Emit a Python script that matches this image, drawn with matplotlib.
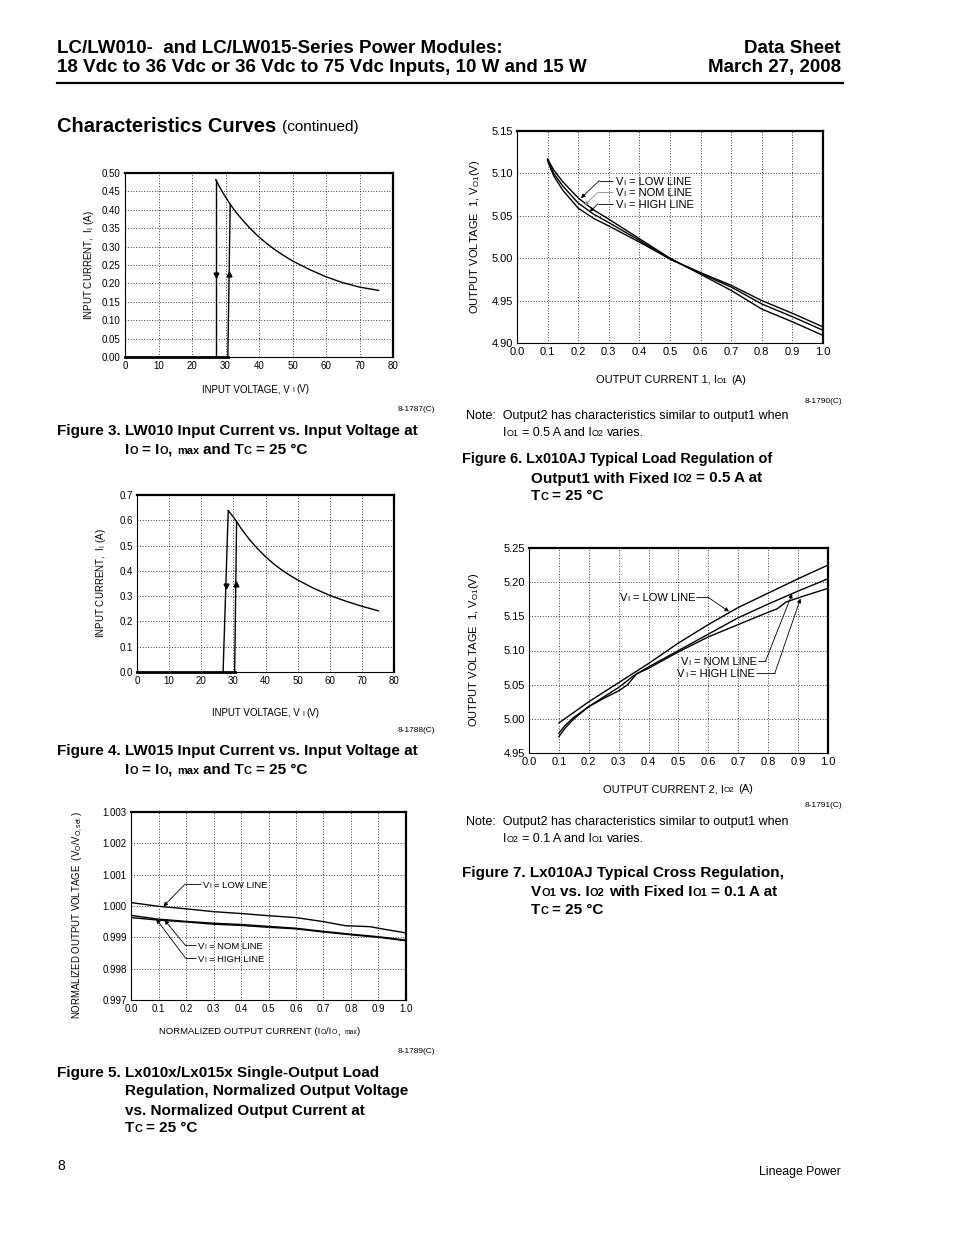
import matplotlib
matplotlib.use('Agg')
import matplotlib.pyplot as plt
from matplotlib.transforms import IdentityTransform
from matplotlib.lines import Line2D
from matplotlib.ticker import FormatStrFormatter

# ---------------- data ----------------
# Figure 3: LW010 input current vs input voltage
lw010_v = [27.1, 28.0, 29.0, 30.0, 31.4, 33.0, 35.0, 37.5, 40.0, 42.5, 45.0, 47.5, 50.0, 55.0, 60.0, 65.0, 70.0, 75.7]
lw010_i = [0.482, 0.466, 0.450, 0.435, 0.415, 0.395, 0.373, 0.348, 0.326, 0.307, 0.290, 0.275, 0.261, 0.238, 0.218, 0.202, 0.190, 0.181]
lw010_off_v = [27.1, 27.1]
lw010_off_i = [0.482, 0.0]
lw010_on_v = [30.7, 31.4]
lw010_on_i = [0.0, 0.415]
lw010_base_v = [0.0, 30.7]
lw010_base_i = [0.0, 0.0]

# Figure 4: LW015 input current vs input voltage
lw015_v = [28.4, 30.0, 31.0, 32.5, 35.0, 37.5, 40.0, 42.5, 45.0, 47.5, 50.0, 55.0, 60.0, 65.0, 70.0, 75.1]
lw015_i = [0.638, 0.613, 0.595, 0.566, 0.524, 0.488, 0.456, 0.428, 0.404, 0.383, 0.364, 0.331, 0.303, 0.280, 0.260, 0.242]
lw015_off_v = [28.4, 26.8]
lw015_off_i = [0.638, 0.0]
lw015_on_v = [30.4, 31.0]
lw015_on_i = [0.0, 0.595]
lw015_base_v = [0.0, 30.4]
lw015_base_i = [0.0, 0.0]

# Figure 5: normalized load regulation
f5_low_x = [0.0, 0.1, 0.2, 0.3, 0.4, 0.5, 0.6, 0.7, 0.78, 0.87, 0.9, 1.0]
f5_low_y = [1.00011, 0.99999, 0.99991, 0.99982, 0.99976, 0.99969, 0.99963, 0.99950, 0.99937, 0.99934, 0.99929, 0.99914]
f5_x = [0.0, 0.1, 0.2, 0.3, 0.4, 0.5, 0.6, 0.7, 0.8, 0.9, 1.0]
f5_nom_y = [0.99970, 0.99958, 0.99951, 0.99945, 0.99941, 0.99935, 0.99929, 0.99919, 0.99910, 0.99902, 0.99891]
f5_high_y = [0.99963, 0.99955, 0.99949, 0.99942, 0.99938, 0.99932, 0.99927, 0.99917, 0.99908, 0.99900, 0.99889]

# Figure 6: load regulation of output1
f6_x = [0.1, 0.12, 0.15, 0.2, 0.25, 0.3, 0.4, 0.5, 0.6, 0.7, 0.8, 0.9, 1.0]
f6_low = [5.117, 5.104, 5.090, 5.071, 5.057, 5.046, 5.023, 5.000, 4.981, 4.962, 4.940, 4.925, 4.909]
f6_nom = [5.116, 5.100, 5.085, 5.065, 5.052, 5.042, 5.021, 4.999, 4.982, 4.966, 4.946, 4.931, 4.915]
f6_high = [5.115, 5.097, 5.080, 5.059, 5.047, 5.038, 5.019, 4.999, 4.983, 4.968, 4.950, 4.935, 4.919]

# Figure 7: cross regulation
f7_low_x = [0.1, 0.2, 0.3, 0.4, 0.5, 0.6, 0.7, 0.8, 0.9, 1.0]
f7_low_y = [4.994, 5.025, 5.053, 5.081, 5.111, 5.138, 5.163, 5.184, 5.205, 5.225]
f7_nom_x = [0.1, 0.12, 0.15, 0.2, 0.25, 0.3, 0.35, 0.4, 0.5, 0.6, 0.7, 0.8, 0.9, 1.0]
f7_nom_y = [4.979, 4.990, 5.002, 5.018, 5.032, 5.046, 5.063, 5.076, 5.100, 5.124, 5.148, 5.168, 5.187, 5.205]
f7_high_x = [0.1, 0.12, 0.15, 0.2, 0.25, 0.3, 0.33, 0.36, 0.4, 0.5, 0.6, 0.7, 0.8, 0.83, 0.86, 0.9, 1.0]
f7_high_y = [4.974, 4.986, 5.000, 5.018, 5.030, 5.041, 5.050, 5.066, 5.074, 5.098, 5.120, 5.138, 5.156, 5.161, 5.171, 5.177, 5.191]

# ---------------- setup ----------------
W, H = 954, 1235
SANS = ['Liberation Sans', 'DejaVu Sans']
NARROW = ['Liberation Sans Narrow', 'Liberation Sans', 'DejaVu Sans']
plt.rcParams['font.family'] = SANS
plt.rcParams['mathtext.default'] = 'regular'

fig = plt.figure(figsize=(W / 100, H / 100), dpi=100)
R = fig.canvas.get_renderer()
ID = IdentityTransform()


def measure(s, fs, weight='normal', family=SANS):
    t = fig.text(0, 0, '|' + s + '|', fontsize=fs, fontweight=weight, family=family, transform=ID)
    w1 = t.get_window_extent(R).width
    t.set_text('||')
    w2 = t.get_window_extent(R).width
    t.remove()
    return w1 - w2


def rich(x, yc, parts, fs, weight='normal', family=SANS, ha='left', sub=0.72, color='k'):
    """x, yc: pixel coords, y measured from the top; parts: (text, 'n'|'s')."""
    sizes = [fs if k == 'n' else fs * sub for s, k in parts]
    widths = [measure(s, f, weight, family) for (s, k), f in zip(parts, sizes)]
    total = sum(widths)
    if ha == 'right':
        x -= total
    elif ha == 'center':
        x -= total / 2
    base = H - yc - 0.36 * fs * 100 / 72
    for (s, k), f, w in zip(parts, sizes, widths):
        lead = len(s) - len(s.lstrip())
        off = measure(s[:lead], f, weight, family) if lead else 0
        if s.strip():
            fig.text(x + off, base, s.strip(), fontsize=f, fontweight=weight, family=family,
                     transform=ID, va='baseline', ha='left', color=color)
        x += w
    return total


def rich_data(ax, x, y, parts, fs, ha='left', **kw):
    px, py = ax.transData.transform((x, y))
    return rich(px, H - py, parts, fs, ha=ha, **kw)


def make_ax(l, t, r, b):
    return fig.add_axes([l / W, 1 - b / H, (r - l) / W, (b - t) / H])


def style_ax(ax, xlim, ylim, xt, yt, xfmt, yfmt, fs):
    ax.set_xlim(*xlim)
    ax.set_ylim(*ylim)
    ax.set_xticks(xt)
    ax.set_yticks(yt)
    ax.xaxis.set_major_formatter(FormatStrFormatter(xfmt))
    ax.yaxis.set_major_formatter(FormatStrFormatter(yfmt))
    ax.tick_params(length=0, labelsize=fs, pad=3)
    ax.grid(True, linestyle=(0, (1, 2.2)), color='k', lw=0.6)
    ax.set_axisbelow(True)
    for s in ['left', 'bottom']:
        ax.spines[s].set_linewidth(0.8)
    for s in ['top', 'right']:
        ax.spines[s].set_linewidth(1.6)


def leader(ax, text_pt, elbow, tip, color='k'):
    ax.plot([text_pt[0], elbow[0]], [text_pt[1], elbow[1]], color=color, lw=0.6, solid_capstyle='butt')
    ax.annotate('', xy=tip, xytext=elbow,
                arrowprops=dict(arrowstyle='-|>', lw=0.6, color=color, mutation_scale=6,
                                shrinkA=0, shrinkB=0))


CAP = 11.0

# ---------------- header ----------------
rich(57, 46, [('LC/LW010-  and LC/LW015-Series Power Modules:', 'n')], 13.5, weight='bold', family=NARROW)
rich(57, 65, [('18 Vdc to 36 Vdc or 36 Vdc to 75 Vdc Inputs, 10 W and 15 W', 'n')], 13.5, weight='bold', family=NARROW)
rich(841, 46, [('Data Sheet', 'n')], 13.5, weight='bold', family=NARROW, ha='right')
rich(841, 65, [('March 27, 2008', 'n')], 13.5, weight='bold', family=NARROW, ha='right')
fig.add_artist(Line2D([57 / W, 843 / W], [1 - 83 / H, 1 - 83 / H], color='k', lw=1.6))

wcc = rich(57, 125, [('Characteristics Curves', 'n')], 14.5, weight='bold', family=NARROW)
rich(57 + wcc + 6, 126, [('(continued)', 'n')], 11, family=NARROW)

# ---------------- Figure 3 ----------------
ax1 = make_ax(125, 173, 393, 357)
style_ax(ax1, (0, 80), (0, 0.5), range(0, 81, 10), [i * 0.05 for i in range(11)], '%d', '%.2f', 7)
ax1.plot(lw010_v, lw010_i, color='k', lw=1.0)
ax1.plot(lw010_off_v, lw010_off_i, color='k', lw=1.0)
ax1.plot(lw010_on_v, lw010_on_i, color='k', lw=1.0)
ax1.plot(lw010_base_v, lw010_base_i, color='k', lw=2.0, clip_on=False)
ax1.plot([27.1], [0.222], marker='v', color='k', ms=3.5)
ax1.plot([31.05], [0.225], marker='^', color='k', ms=3.5)
rich(256, 389, [('INPUT VOLTAGE, V', 'n'), (' I', 's'), (' (V)', 'n')], 7, ha='center')
fig.text(89 / W, 1 - 265 / H, r'INPUT CURRENT,  I$_I$ (A)', rotation=90, fontsize=7,
         ha='center', va='center')
rich(435, 408, [('8-1787(C)', 'n')], 6, ha='right')
rich(57, 430, [('Figure 3. LW010 Input Current vs. Input Voltage at', 'n')], CAP, weight='bold')
rich(125, 448, [('I', 'n'), ('O', 's'), (' = I', 'n'), ('O', 's'), (', ', 'n'), ('max', 's'),
                (' and T', 'n'), ('C', 's'), (' = 25 \u00b0C', 'n')], CAP, weight='bold')

# ---------------- Figure 4 ----------------
ax2 = make_ax(137, 495, 394, 672)
style_ax(ax2, (0, 80), (0, 0.7), range(0, 81, 10), [i * 0.1 for i in range(8)], '%d', '%.1f', 7)
ax2.plot(lw015_v, lw015_i, color='k', lw=1.0)
ax2.plot(lw015_off_v, lw015_off_i, color='k', lw=1.0)
ax2.plot(lw015_on_v, lw015_on_i, color='k', lw=1.0)
ax2.plot(lw015_base_v, lw015_base_i, color='k', lw=2.0, clip_on=False)
ax2.plot([27.65], [0.34], marker='v', color='k', ms=3.5)
ax2.plot([30.75], [0.35], marker='^', color='k', ms=3.5)
rich(266, 712, [('INPUT VOLTAGE, V', 'n'), (' I', 's'), (' (V)', 'n')], 7, ha='center')
fig.text(101 / W, 1 - 583 / H, r'INPUT CURRENT,  I$_I$ (A)', rotation=90, fontsize=7,
         ha='center', va='center')
rich(435, 729, [('8-1788(C)', 'n')], 6, ha='right')
rich(57, 750, [('Figure 4. LW015 Input Current vs. Input Voltage at', 'n')], CAP, weight='bold')
rich(125, 768, [('I', 'n'), ('O', 's'), (' = I', 'n'), ('O', 's'), (', ', 'n'), ('max', 's'),
                (' and T', 'n'), ('C', 's'), (' = 25 \u00b0C', 'n')], CAP, weight='bold')

# ---------------- Figure 5 ----------------
ax3 = make_ax(131, 812, 406, 1000)
style_ax(ax3, (0, 1.0), (0.997, 1.003), [i / 10 for i in range(11)],
         [0.997 + i * 0.001 for i in range(7)], '%.1f', '%.3f', 7)
ax3.plot(f5_low_x, f5_low_y, color='k', lw=1.0)
ax3.plot(f5_x, f5_nom_y, color='k', lw=1.0)
ax3.plot(f5_x, f5_high_y, color='k', lw=1.0)
leader(ax3, (0.254, 1.00070), (0.197, 1.00070), (0.118, 0.99999))
leader(ax3, (0.238, 0.99874), (0.198, 0.99874), (0.122, 0.99955))
leader(ax3, (0.238, 0.99834), (0.198, 0.99834), (0.092, 0.99958))
rich_data(ax3, 0.262, 1.00069, [('V', 'n'), ('I', 's'), (' = LOW LINE', 'n')], 6.8)
rich_data(ax3, 0.245, 0.99873, [('V', 'n'), ('I', 's'), (' = NOM LINE', 'n')], 6.8)
rich_data(ax3, 0.245, 0.99833, [('V', 'n'), ('I', 's'), (' = HIGH LINE', 'n')], 6.8)
rich(260, 1031, [('NORMALIZED OUTPUT CURRENT (I', 'n'), ('O', 's'), ('/I', 'n'), ('O', 's'),
                 (',  ', 'n'), ('max', 's'), (')', 'n')], 6.8, ha='center')
fig.text(78 / W, 1 - 915 / H, r'NORMALIZED OUTPUT VOLTAGE  (V$_O$/V$_{O, set}$ )', rotation=90,
         fontsize=6.9, ha='center', va='center')
rich(435, 1050, [('8-1789(C)', 'n')], 6, ha='right')
rich(57, 1071, [('Figure 5. Lx010x/Lx015x Single-Output Load', 'n')], CAP, weight='bold')
rich(125, 1090, [('Regulation, Normalized Output Voltage', 'n')], CAP, weight='bold')
rich(125, 1109, [('vs. Normalized Output Current at', 'n')], CAP, weight='bold')
rich(125, 1127, [('T', 'n'), ('C', 's'), (' = 25 \u00b0C', 'n')], CAP, weight='bold')

# ---------------- Figure 6 ----------------
ax4 = make_ax(517, 131, 823, 343)
style_ax(ax4, (0, 1.0), (4.90, 5.15), [i / 10 for i in range(11)],
         [4.90 + i * 0.05 for i in range(6)], '%.1f', '%.2f', 8)
ax4.plot(f6_x, f6_low, color='k', lw=1.0)
ax4.plot(f6_x, f6_nom, color='k', lw=1.0)
ax4.plot(f6_x, f6_high, color='k', lw=1.0)
leader(ax4, (0.313, 5.0915), (0.269, 5.0915), (0.209, 5.0709))
leader(ax4, (0.313, 5.0775), (0.264, 5.0775), (0.220, 5.0624), color='#888888')
leader(ax4, (0.313, 5.0640), (0.264, 5.0640), (0.238, 5.0547))
rich_data(ax4, 0.323, 5.0915, [('V', 'n'), ('I', 's'), (' = LOW LINE', 'n')], 8.0)
rich_data(ax4, 0.323, 5.0775, [('V', 'n'), ('I', 's'), (' = NOM LINE', 'n')], 8.0)
rich_data(ax4, 0.323, 5.0640, [('V', 'n'), ('I', 's'), (' = HIGH LINE', 'n')], 8.0)
rich(671, 379, [('OUTPUT CURRENT 1, I', 'n'), ('O1', 's'), (' (A)', 'n')], 8, ha='center')
fig.text(475 / W, 1 - 237 / H, r'OUTPUT VOLTAGE  1, V$_{O1}$(V)', rotation=90, fontsize=8,
         ha='center', va='center')
rich(842, 400, [('8-1790(C)', 'n')], 6, ha='right')
rich(466, 415, [('Note:  Output2 has characteristics similar to output1 when', 'n')], 9.0)
rich(503, 432, [('I', 'n'), ('O1', 's'), (' = 0.5 A and I', 'n'), ('O2', 's'), (' varies.', 'n')], 9.0)
rich(462, 458, [('Figure 6. Lx010AJ Typical Load Regulation of', 'n')], 10.4, weight='bold')
rich(531, 477, [('Output1 with Fixed I', 'n'), ('O2', 's'), (' = 0.5 A at', 'n')], CAP, weight='bold')
rich(531, 495, [('T', 'n'), ('C', 's'), (' = 25 \u00b0C', 'n')], CAP, weight='bold')

# ---------------- Figure 7 ----------------
ax5 = make_ax(529, 548, 828, 753)
style_ax(ax5, (0, 1.0), (4.95, 5.25), [i / 10 for i in range(11)],
         [4.95 + i * 0.05 for i in range(7)], '%.1f', '%.2f', 8)
ax5.plot(f7_low_x, f7_low_y, color='k', lw=1.0)
ax5.plot(f7_nom_x, f7_nom_y, color='k', lw=1.0)
ax5.plot(f7_high_x, f7_high_y, color='k', lw=1.0)
leader(ax5, (0.560, 5.1784), (0.597, 5.1784), (0.669, 5.157))
leader(ax5, (0.766, 5.0845), (0.791, 5.0845), (0.880, 5.183))
leader(ax5, (0.760, 5.0666), (0.822, 5.0666), (0.908, 5.176))
rich_data(ax5, 0.556, 5.1784, [('V', 'n'), ('I', 's'), (' = LOW LINE', 'n')], 8.0, ha='right')
rich_data(ax5, 0.762, 5.0845, [('V', 'n'), ('I', 's'), (' = NOM LINE', 'n')], 8.0, ha='right')
rich_data(ax5, 0.756, 5.0666, [('V', 'n'), ('I', 's'), (' = HIGH LINE', 'n')], 8.0, ha='right')
rich(678, 788, [('OUTPUT CURRENT 2, I', 'n'), ('O2', 's'), (' (A)', 'n')], 8, ha='center')
fig.text(474 / W, 1 - 650 / H, r'OUTPUT VOLTAGE  1, V$_{O1}$(V)', rotation=90, fontsize=8,
         ha='center', va='center')
rich(842, 804, [('8-1791(C)', 'n')], 6, ha='right')
rich(466, 820, [('Note:  Output2 has characteristics similar to output1 when', 'n')], 9.0)
rich(503, 837, [('I', 'n'), ('O2', 's'), (' = 0.1 A and I', 'n'), ('O1', 's'), (' varies.', 'n')], 9.0)
rich(462, 872, [('Figure 7. Lx010AJ Typical Cross Regulation,', 'n')], CAP, weight='bold')
rich(531, 891, [('V', 'n'), ('O1', 's'), (' vs. I', 'n'), ('O2', 's'), (' with Fixed I', 'n'), ('O1', 's'),
                (' = 0.1 A at', 'n')], CAP, weight='bold')
rich(531, 909, [('T', 'n'), ('C', 's'), (' = 25 \u00b0C', 'n')], CAP, weight='bold')

# ---------------- footer ----------------
rich(57, 1165, [('8', 'n')], 10)
rich(841, 1171, [('Lineage Power', 'n')], 8.8, ha='right')

fig.savefig('out.png', dpi=100)
